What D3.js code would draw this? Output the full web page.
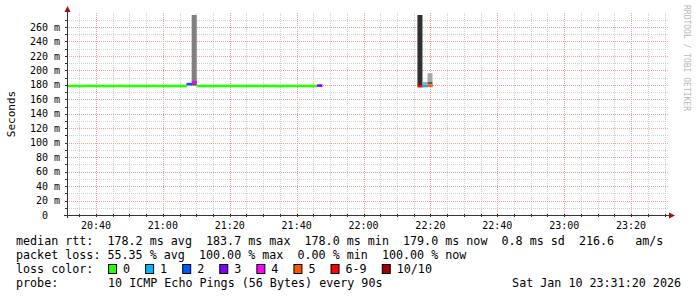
<!DOCTYPE html>
<html>
<head>
<meta charset="utf-8">
<script src="https://cdn.jsdelivr.net/npm/d3@7"></script>
<style>
  body { margin: 0; background: #fff; }
  text { font-family: "DejaVu Sans Mono", monospace; fill: #000; white-space: pre; }
</style>
</head>
<body>
<div id="wrapper"></div>
<script>
// 1. Data

// one sample every 90 s, first one starts at 20:31:07
const stepSeconds = 90
const firstSample = "20:31:07"

// median rtt in ms, null = no data
const medianRtt = [
  178.4, 178.4, 178.3, 178.4, 178.5, 178.4, 178.4, 178.3, 178.4, 178.4, 178.5, 178.4,
  178.4, 178.3, 178.4, 178.4, 178.4, 178.5, 178.4, 178.4, 178.3, 178.4, 178.4, 178.4,
  181.0, 183.7,
  178.4, 178.4, 178.3, 178.4, 178.4, 178.5, 178.4, 178.4, 178.4, 178.3, 178.4, 178.4,
  178.4, 178.5, 178.4, 178.4, 178.3, 178.4, 178.4, 178.4, 178.5, 178.4, 178.4, 178.4,
  179.0,
  null, null, null, null, null, null, null, null, null, null,
  null, null, null, null, null, null, null, null, null,
  178.2, 178.3, 179.0
]

// lost pings out of 10 for every sample
const lossCount = [
  0, 0, 0, 0, 0, 0, 0, 0, 0, 0, 0, 0,
  0, 0, 0, 0, 0, 0, 0, 0, 0, 0, 0, 0,
  2, 4,
  0, 0, 0, 0, 0, 0, 0, 0, 0, 0, 0, 0,
  0, 0, 0, 0, 0, 0, 0, 0, 0, 0, 0, 0,
  3,
  null, null, null, null, null, null, null, null, null, null,
  null, null, null, null, null, null, null, null, null,
  7, 1, 5
]

// smoke bands (ping spread): sample index, low ms, high ms, density level
const smokeSample = [24, 25, 25, 70, 71, 72, 72]
const smokeLow = [180.0, 184.5, 179.0, 179.0, 180.0, 184.0, 181.0]
const smokeHigh = [182.0, 400.0, 182.5, 400.0, 184.0, 196.0, 184.0]
const smokeLevel = [3, 1, 2, 3, 0, 0, 2]

const lossLabels = ["0", "1", "2", "3", "4", "5", "6-9", "10/10"]
const lossColors = ["#26ff00", "#00b8ff", "#0059ff", "#7e00ff", "#ff00ff", "#ff5500", "#ff0000", "#a10000"]

const yTicks = [0, 20, 40, 60, 80, 100, 120, 140, 160, 180, 200, 220, 240, 260]
const xTickLabels = ["20:40", "21:00", "21:20", "21:40", "22:00", "22:20", "22:40", "23:00", "23:20"]

const statLines = [
  "median rtt:  178.2 ms avg  183.7 ms max  178.0 ms min  179.0 ms now  0.8 ms sd  216.6   am/s",
  "packet loss: 55.35 % avg  100.00 % max  0.00 % min  100.00 % now",
]
const probeText = "10 ICMP Echo Pings (56 Bytes) every 90s"
const dateText = "Sat Jan 10 23:31:20 2026"

// 2. Dimensions

const dimensions = {
  width: 697,
  height: 297,
  left: 67,
  right: 669,
  top: 15,
  bottom: 215,
}

const parseTime = d3.timeParse("%Y-%m-%d %H:%M:%S")
const day = "2026-01-10 "
const startTime = parseTime(day + "20:31:20")
const endTime = parseTime(day + "23:31:20")
const sampleZero = parseTime(day + firstSample)
const sampleStart = i => new Date(+sampleZero + i * stepSeconds * 1000)

const lossBucket = n => n == 0 ? 0 : n <= 5 ? n : n < 10 ? 6 : 7

// 3. Canvas

const svg = d3.select("#wrapper")
  .append("svg")
    .attr("width", dimensions.width)
    .attr("height", dimensions.height)

svg.append("defs").append("clipPath")
    .attr("id", "plot-clip")
  .append("rect")
    .attr("x", dimensions.left)
    .attr("y", dimensions.top)
    .attr("width", dimensions.right - dimensions.left)
    .attr("height", dimensions.bottom - dimensions.top)

// 4. Scales

const xScale = d3.scaleTime()
  .domain([startTime, endTime])
  .range([dimensions.left, dimensions.right])

const yScale = d3.scaleLinear()
  .domain([0, 276.6])
  .range([dimensions.bottom, dimensions.top])

const smokeGray = d3.scaleOrdinal()
  .domain([0, 1, 2, 3])
  .range(["#a8a8a8", "#808080", "#5a5a5a", "#303030"])

// 5. Grid

const grid = svg.append("g")
const minorTimes = d3.timeMinute.every(5).range(startTime, endTime)
const majorTimes = d3.timeMinute.every(20).range(startTime, endTime)

grid.selectAll(".h-minor")
  .data(d3.range(10, 276, 20))
  .enter().append("line")
    .attr("x1", dimensions.left).attr("x2", dimensions.right)
    .attr("y1", d => Math.round(yScale(d)) + 0.5).attr("y2", d => Math.round(yScale(d)) + 0.5)
    .attr("stroke", "#cfcfcf").attr("stroke-dasharray", "1,1")

grid.selectAll(".v-minor")
  .data(minorTimes)
  .enter().append("line")
    .attr("x1", d => Math.round(xScale(d)) + 0.5).attr("x2", d => Math.round(xScale(d)) + 0.5)
    .attr("y1", 13).attr("y2", dimensions.bottom)
    .attr("stroke", "#cfcfcf").attr("stroke-dasharray", "1,1")

grid.selectAll(".h-major")
  .data(yTicks.slice(1))
  .enter().append("line")
    .attr("x1", dimensions.left).attr("x2", dimensions.right)
    .attr("y1", d => Math.round(yScale(d)) + 0.5).attr("y2", d => Math.round(yScale(d)) + 0.5)
    .attr("stroke", "#eaa0a0").attr("stroke-dasharray", "1,1")

grid.selectAll(".v-major")
  .data(majorTimes)
  .enter().append("line")
    .attr("x1", d => Math.round(xScale(d)) + 0.5).attr("x2", d => Math.round(xScale(d)) + 0.5)
    .attr("y1", 13).attr("y2", dimensions.bottom)
    .attr("stroke", "#eaa0a0").attr("stroke-dasharray", "1,1")

// 6. Data

const plot = svg.append("g").attr("clip-path", "url(#plot-clip)")

plot.selectAll(".smoke")
  .data(smokeSample.map((s, i) => ({s, lo: smokeLow[i], hi: smokeHigh[i], level: smokeLevel[i]})))
  .enter().append("rect")
    .attr("x", d => xScale(sampleStart(d.s)))
    .attr("width", d => xScale(sampleStart(d.s + 1)) - xScale(sampleStart(d.s)))
    .attr("y", d => yScale(d.hi))
    .attr("height", d => yScale(d.lo) - yScale(d.hi))
    .attr("fill", d => smokeGray(d.level))

const samples = medianRtt
  .map((m, i) => ({i, median: m, loss: lossCount[i]}))
  .filter(d => d.median != null)

plot.selectAll(".median")
  .data(samples)
  .enter().append("rect")
    .attr("x", d => xScale(sampleStart(d.i)))
    .attr("width", d => xScale(sampleStart(d.i + 1)) - xScale(sampleStart(d.i)) + 0.3)
    .attr("y", d => yScale(d.median) - 1.3)
    .attr("height", 2.6)
    .attr("fill", d => lossColors[lossBucket(d.loss)])

// 7. Axes

const axes = svg.append("g")
axes.append("line")
  .attr("x1", dimensions.left + 0.5).attr("x2", dimensions.left + 0.5)
  .attr("y1", dimensions.bottom + 3).attr("y2", 10)
  .attr("stroke", "#333")
axes.append("line")
  .attr("x1", dimensions.left - 3).attr("x2", 672)
  .attr("y1", dimensions.bottom + 0.5).attr("y2", dimensions.bottom + 0.5)
  .attr("stroke", "#333")
axes.append("path")
  .attr("d", `M${dimensions.left - 2.5},${12} L${dimensions.left + 0.5},${6} L${dimensions.left + 3.5},${12} Z`)
  .attr("fill", "#a01010")
axes.append("path")
  .attr("d", `M${dimensions.right},${dimensions.bottom - 2.5} L${dimensions.right + 6},${dimensions.bottom + 0.5} L${dimensions.right},${dimensions.bottom + 3.5} Z`)
  .attr("fill", "#a01010")

axes.selectAll(".x-tick")
  .data(minorTimes)
  .enter().append("line")
    .attr("x1", d => Math.round(xScale(d)) + 0.5).attr("x2", d => Math.round(xScale(d)) + 0.5)
    .attr("y1", dimensions.bottom - 1).attr("y2", dimensions.bottom + 2)
    .attr("stroke", "#333")
axes.selectAll(".y-tick")
  .data(d3.range(0, 276, 10))
  .enter().append("line")
    .attr("x1", dimensions.left - 2).attr("x2", dimensions.left + 1)
    .attr("y1", d => Math.round(yScale(d)) + 0.5).attr("y2", d => Math.round(yScale(d)) + 0.5)
    .attr("stroke", "#333")

axes.selectAll(".x-label")
  .data(xTickLabels)
  .enter().append("text")
    .attr("x", d => xScale(parseTime(day + d + ":00")))
    .attr("y", 229)
    .attr("text-anchor", "middle")
    .style("font-size", "10px")
    .text(d => d)

axes.selectAll(".y-label")
  .data(yTicks)
  .enter().append("text")
    .attr("x", 48)
    .attr("y", d => yScale(d) + 3.6)
    .attr("text-anchor", "end")
    .style("font-size", "10px")
    .text(d => d)

axes.selectAll(".y-unit")
  .data(yTicks.slice(1))
  .enter().append("text")
    .attr("x", 54)
    .attr("y", d => yScale(d) + 3.6)
    .style("font-size", "10px")
    .text("m")

svg.append("text")
  .attr("transform", "translate(14.5, 114) rotate(-90)")
  .attr("text-anchor", "middle")
  .style("font-size", "11px")
  .text("Seconds")

svg.append("text")
  .attr("transform", "translate(684, 5) rotate(90)")
  .style("font-size", "8px")
  .style("fill", "#b8b8b8")
  .text("RRDTOOL / TOBI OETIKER")

// 8. Legend

const lineY = [245, 259, 273, 287]
const charW = 7.08

svg.selectAll(".stat")
  .data(statLines)
  .enter().append("text")
    .attr("x", 16)
    .attr("y", (d, i) => lineY[i])
    .style("font-size", "11.7px")
    .text(d => d)

svg.append("text")
  .attr("x", 16).attr("y", lineY[2])
  .style("font-size", "11.7px")
  .text("loss color:")

let legendX = 16 + 13 * charW
lossLabels.forEach((label, i) => {
  svg.append("rect")
    .attr("x", legendX + 0.5).attr("y", lineY[2] - 8.5)
    .attr("width", 8).attr("height", 9)
    .attr("fill", lossColors[i])
    .attr("stroke", "#000")
  svg.append("text")
    .attr("x", legendX + 15).attr("y", lineY[2])
    .style("font-size", "11.7px")
    .text(label)
  legendX += 15 + label.length * charW + 15
})

svg.append("text")
  .attr("x", 16).attr("y", lineY[3])
  .style("font-size", "11.7px")
  .text("probe:")
svg.append("text")
  .attr("x", 16 + 13 * charW).attr("y", lineY[3])
  .style("font-size", "11.7px")
  .text(probeText)
svg.append("text")
  .attr("x", 681).attr("y", lineY[3])
  .attr("text-anchor", "end")
  .style("font-size", "11.7px")
  .text(dateText)
</script>
</body>
</html>
